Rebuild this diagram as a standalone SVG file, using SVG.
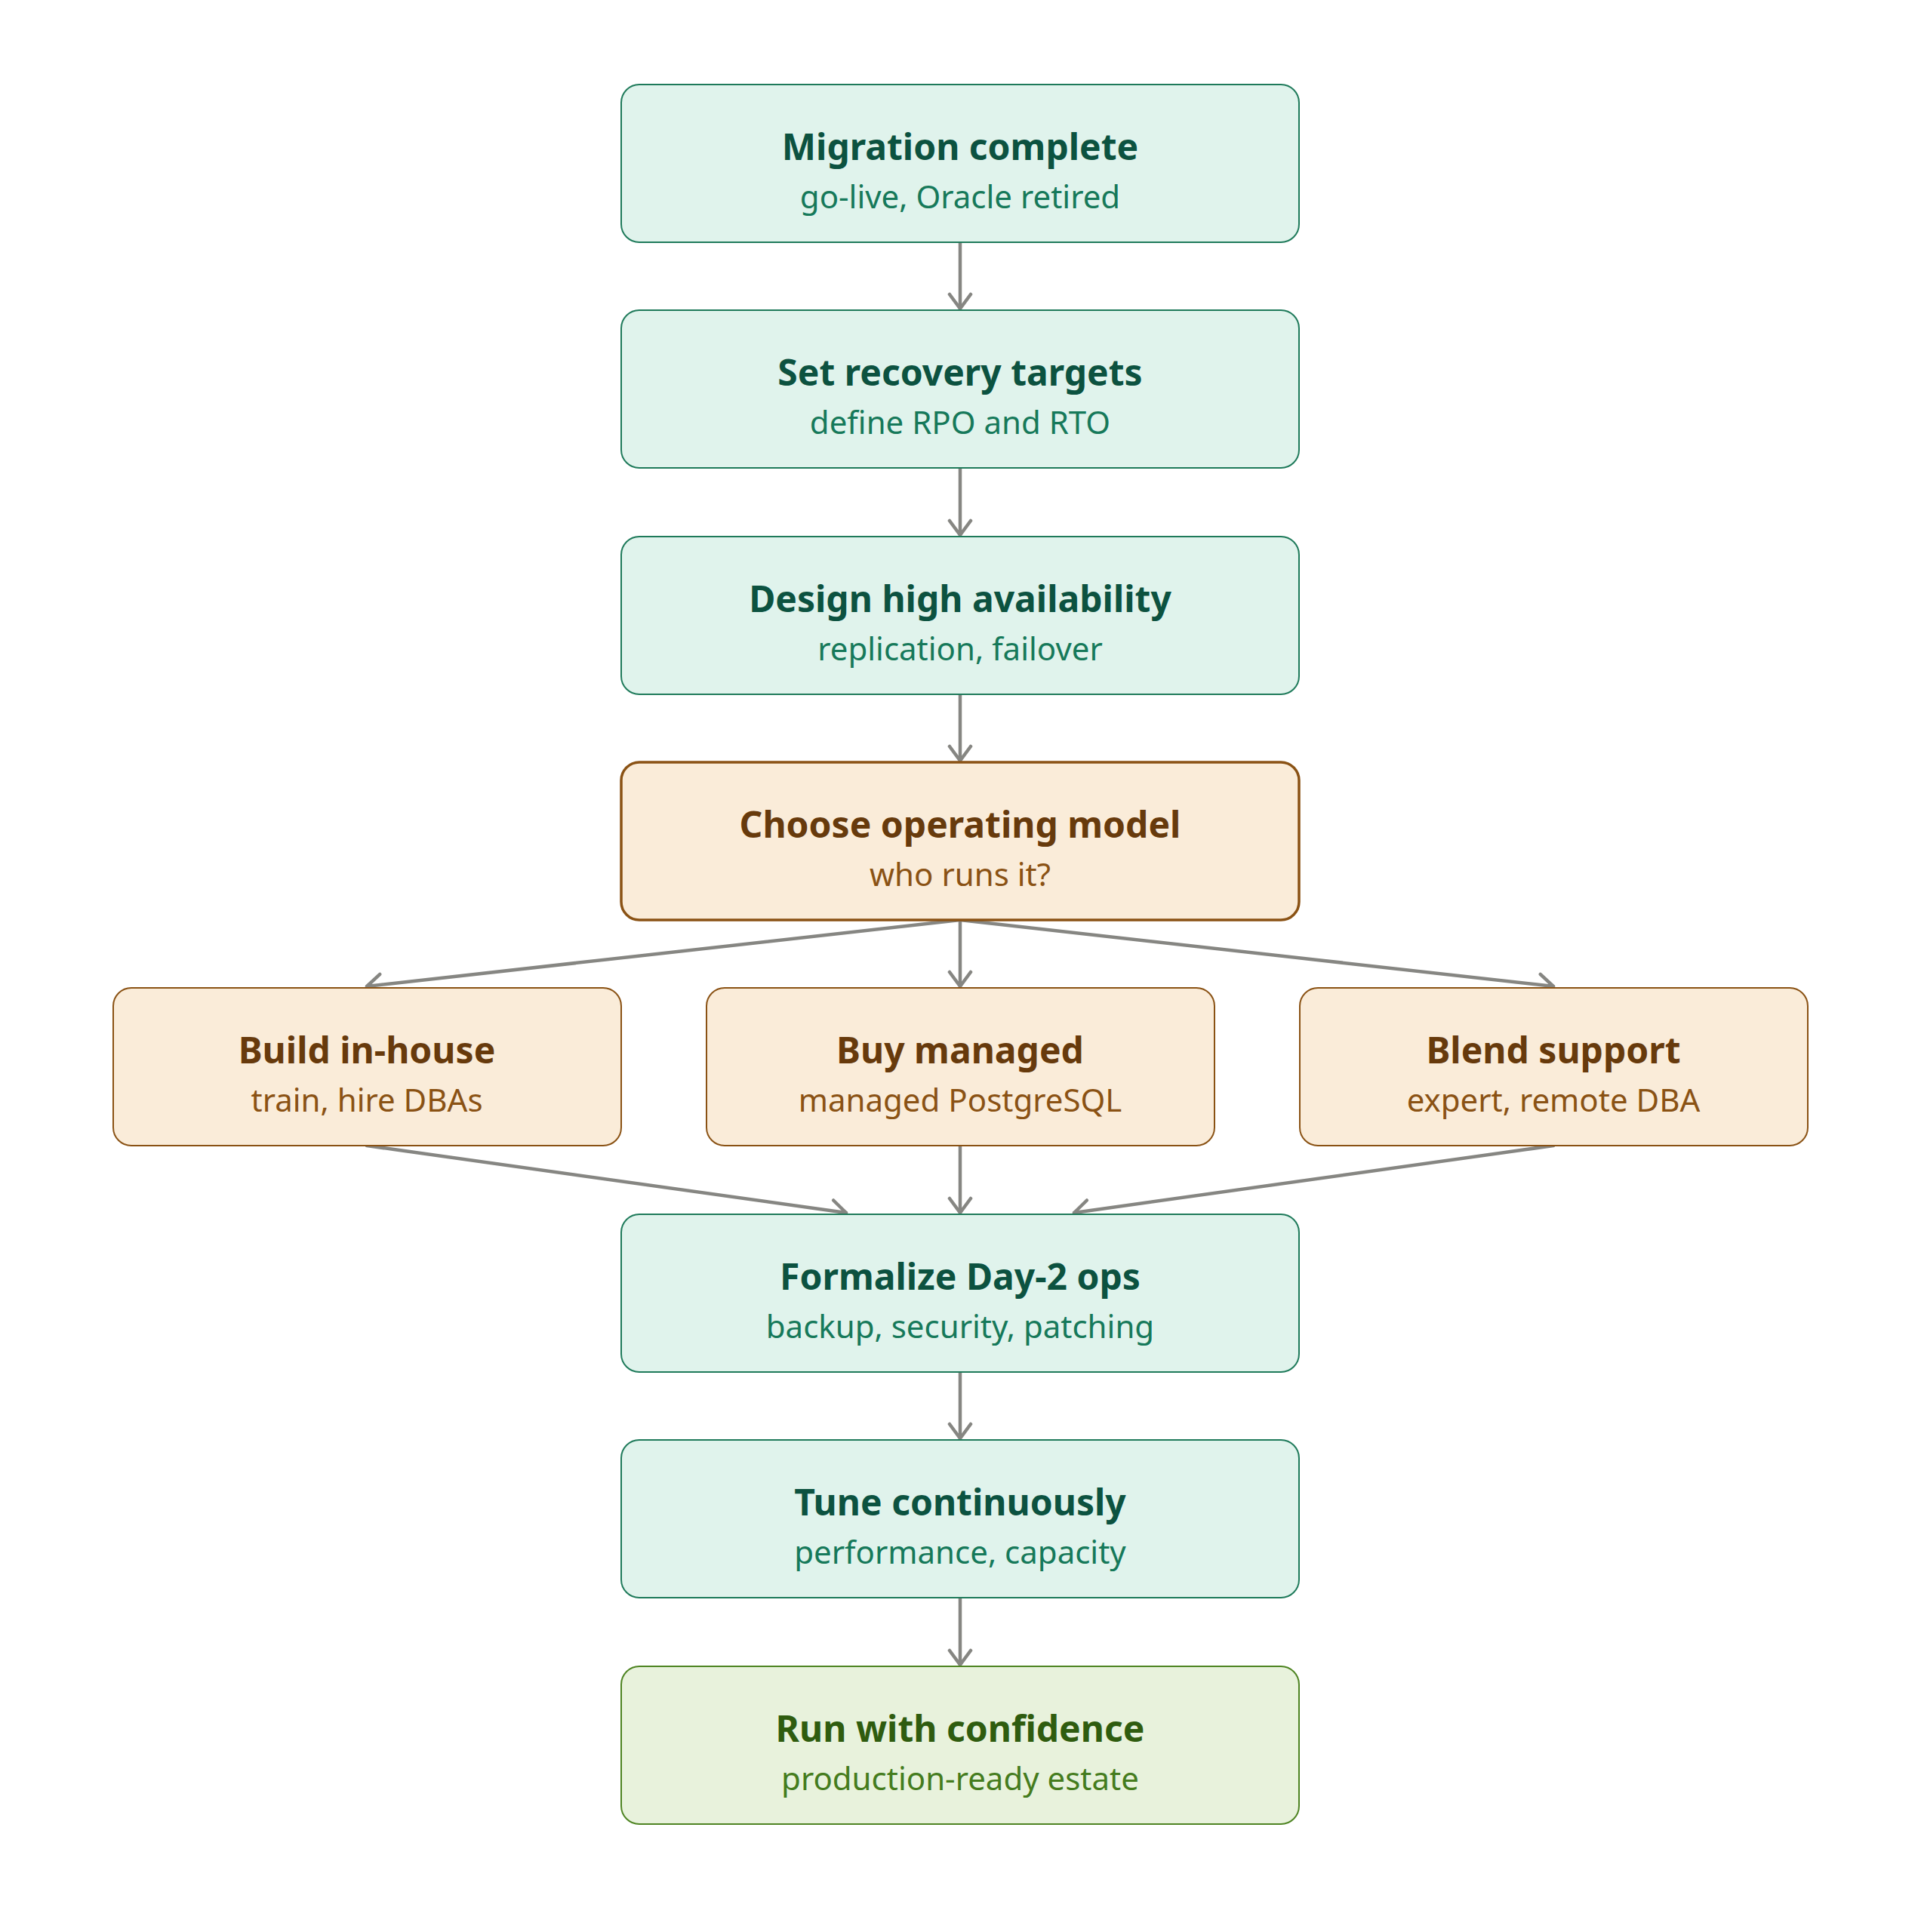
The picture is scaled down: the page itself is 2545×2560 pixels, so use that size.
<svg xmlns="http://www.w3.org/2000/svg" width="2545" height="2560" viewBox="0 0 2545 2560">
<defs>
<style>
.box rect{stroke-width:2}
.g rect{fill:#e0f3ec;stroke:#1e7a5a}
.g .t{fill:#0c5240}
.g .s{fill:#16795a}
.o rect{fill:#faecd9;stroke:#8a5214}
.o .t{fill:#673a0c}
.o .s{fill:#8a5214}
.f rect{fill:#e8f2dc;stroke:#4e8422}
.f .t{fill:#2f5c0f}
.f .s{fill:#457c1e}
.t{font-family:"Noto Sans","Open Sans",sans-serif;font-weight:bold;font-size:48px;text-anchor:middle}
.s{font-family:"Noto Sans","Open Sans",sans-serif;font-size:42px;text-anchor:middle}
.edges path{fill:none;stroke:#868682;stroke-width:4.5;stroke-linecap:round;marker-end:url(#arr)}
</style>
<marker id="arr" markerUnits="userSpaceOnUse" markerWidth="40" markerHeight="40" refX="20" refY="15" orient="auto" viewBox="0 0 40 40" overflow="visible">
<path d="M1,1 L20,15 L1,29" fill="none" stroke="#868682" stroke-width="4.5" stroke-linecap="round" stroke-linejoin="round"/>
</marker>
</defs>
<rect width="2545" height="2560" fill="#ffffff"/>
<g class="edges">
<path d="M1272,321 L1272,409"/>
<path d="M1272,620 L1272,709"/>
<path d="M1272,920 L1272,1008"/>
<path d="M1272,1219 L486,1307"/>
<path d="M1272,1219 L1272,1307"/>
<path d="M1272,1219 L2058,1307"/>
<path d="M486,1518 L1121,1607"/>
<path d="M1272,1518 L1272,1607"/>
<path d="M2058,1518 L1423,1607"/>
<path d="M1272,1817 L1272,1906"/>
<path d="M1272,2117 L1272,2206"/>
</g>
<g id="n1" class="box g"><rect x="823" y="112" width="898" height="209" rx="24"/><text class="t" x="1272" y="212">Migration complete</text><text class="s" x="1272" y="276">go-live, Oracle retired</text></g>
<g id="n2" class="box g"><rect x="823" y="411" width="898" height="209" rx="24"/><text class="t" x="1272" y="511">Set recovery targets</text><text class="s" x="1272" y="575">define RPO and RTO</text></g>
<g id="n3" class="box g"><rect x="823" y="711" width="898" height="209" rx="24"/><text class="t" x="1272" y="811">Design high availability</text><text class="s" x="1272" y="875">replication, failover</text></g>
<g id="n4" class="box o"><rect x="823" y="1010" width="898" height="209" rx="24" style="stroke-width:3.5"/><text class="t" x="1272" y="1110">Choose operating model</text><text class="s" x="1272" y="1174">who runs it?</text></g>
<g id="n5" class="box o"><rect x="150" y="1309" width="673" height="209" rx="24"/><text class="t" x="486" y="1409">Build in-house</text><text class="s" x="486" y="1473">train, hire DBAs</text></g>
<g id="n6" class="box o"><rect x="936" y="1309" width="673" height="209" rx="24"/><text class="t" x="1272" y="1409">Buy managed</text><text class="s" x="1272" y="1473">managed PostgreSQL</text></g>
<g id="n7" class="box o"><rect x="1722" y="1309" width="673" height="209" rx="24"/><text class="t" x="2058" y="1409">Blend support</text><text class="s" x="2058" y="1473">expert, remote DBA</text></g>
<g id="n8" class="box g"><rect x="823" y="1609" width="898" height="209" rx="24"/><text class="t" x="1272" y="1709">Formalize Day-2 ops</text><text class="s" x="1272" y="1773">backup, security, patching</text></g>
<g id="n9" class="box g"><rect x="823" y="1908" width="898" height="209" rx="24"/><text class="t" x="1272" y="2008">Tune continuously</text><text class="s" x="1272" y="2072">performance, capacity</text></g>
<g id="n10" class="box f"><rect x="823" y="2208" width="898" height="209" rx="24"/><text class="t" x="1272" y="2308">Run with confidence</text><text class="s" x="1272" y="2372">production-ready estate</text></g>
</svg>
